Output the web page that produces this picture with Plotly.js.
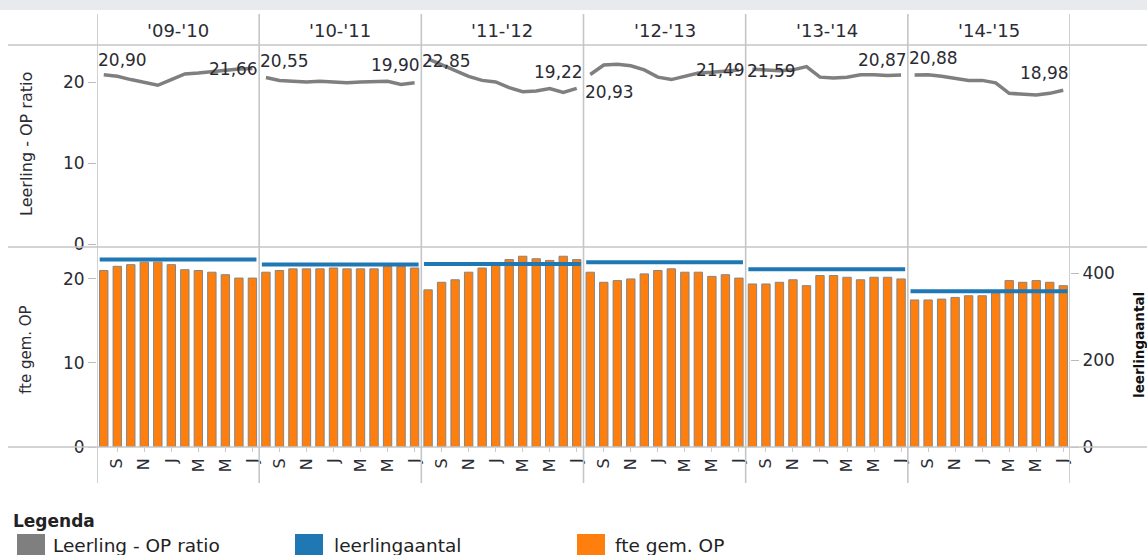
<!DOCTYPE html>
<html>
<head>
<meta charset="utf-8">
<script src="https://cdn.plot.ly/plotly-3.0.1.min.js"></script>
<style>
  html, body { margin: 0; padding: 0; background: #fff; overflow: hidden; }
  #chart { width: 1147px; height: 555px; }
</style>
</head>
<body>
<div id="chart"></div>
<script>
// ---------- data ----------
const years = ["'09-'10", "'10-'11", "'11-'12", "'12-'13", "'13-'14", "'14-'15"];
const months = ['A', 'S', 'O', 'N', 'D', 'J', 'F', 'M', 'A', 'M', 'J', 'J'];

// Leerling - OP ratio (per month)
const ratio0910 = [20.90, 20.7, 20.3, 19.9, 19.6, 20.3, 21.0, 21.1, 21.3, 21.4, 21.6, 21.66];
const ratio1011 = [20.55, 20.2, 20.1, 20.0, 20.1, 20.0, 19.9, 20.0, 20.0, 20.1, 19.7, 19.90];
const ratio1112 = [22.85, 22.1, 21.4, 20.7, 20.2, 20.0, 19.3, 18.8, 18.9, 19.2, 18.7, 19.22];
const ratio1213 = [20.93, 22.1, 22.2, 22.0, 21.5, 20.6, 20.3, 20.7, 21.1, 21.2, 21.3, 21.49];
const ratio1314 = [21.59, 21.5, 21.4, 21.5, 21.9, 20.6, 20.5, 20.6, 20.9, 20.9, 20.8, 20.87];
const ratio1415 = [20.88, 20.9, 20.7, 20.4, 20.2, 20.2, 19.9, 18.6, 18.5, 18.4, 18.6, 18.98];

// fte gem. OP (per month)
const fte0910 = [21.0, 21.5, 21.7, 22.0, 22.0, 21.7, 21.1, 21.0, 20.8, 20.5, 20.1, 20.1];
const fte1011 = [20.8, 21.0, 21.2, 21.2, 21.2, 21.3, 21.2, 21.2, 21.2, 21.5, 21.5, 21.3];
const fte1112 = [18.7, 19.6, 19.9, 20.8, 21.3, 21.6, 22.3, 22.7, 22.4, 22.2, 22.7, 22.3];
const fte1213 = [20.8, 19.6, 19.8, 20.0, 20.6, 21.0, 21.2, 20.8, 20.8, 20.3, 20.5, 20.1];
const fte1314 = [19.4, 19.4, 19.6, 19.9, 19.2, 20.4, 20.4, 20.2, 19.9, 20.2, 20.2, 20.0];
const fte1415 = [17.5, 17.5, 17.6, 17.8, 18.0, 18.0, 18.3, 19.8, 19.6, 19.8, 19.6, 19.2];

// leerlingaantal (per school year)
const leerlingaantal = [431, 420, 421, 425, 409, 358];

const leftTicks = [0, 10, 20];
const rightTicks = [0, 200, 400];
const legendTitle = 'Legenda';
const legendNames = ['Leerling - OP ratio', 'leerlingaantal', 'fte gem. OP'];

// ---------- styles / layout helpers ----------
const ratioByYear = [ratio0910, ratio1011, ratio1112, ratio1213, ratio1314, ratio1415];
const fteByYear = [fte0910, fte1011, fte1112, fte1213, fte1314, fte1415];
const colGray = '#7f7f7f', colBlue = '#1f77b4', colOrange = '#ff7f0e';
const gridCol = '#c6c6c6';
const FONT = 'DejaVu Sans, sans-serif';
const txtCol = '#2b2b33';

const W = 1147, H = 555, L = 97, R = 77, T = 45, B = 108;
const pw = W - L - R, ph = H - T - B;
const xp = px => (px - L) / pw;
const yp = py => (H - B - py) / ph;
const split = 200 / ph;

// label vertical offsets (px) for first / last value labels
const startShift = [15, 17, -2, -18, -2, 17];
const endShift = [0, 18, 16, 0, 15, 17];

const fmt = v => v.toFixed(2).replace('.', ',');

// ---------- traces ----------
const barX = [], barY = [];
const lineX = [], lineY = [];
const blueX = [], blueY = [];
years.forEach((yr, k) => {
  fteByYear[k].forEach((v, i) => { barX.push(k * 12 + i); barY.push(v); });
  ratioByYear[k].forEach((v, i) => { lineX.push(k * 12 + i); lineY.push(v); });
  lineX.push(null); lineY.push(null);
  blueX.push(k * 12 - 0.3, k * 12 + 11.3, null);
  blueY.push(leerlingaantal[k], leerlingaantal[k], null);
});

const traces = [
  {
    type: 'bar', x: barX, y: barY, xaxis: 'x', yaxis: 'y2', width: 0.62,
    marker: { color: colOrange, line: { color: '#858585', width: 1 } },
    name: legendNames[2], hoverinfo: 'skip'
  },
  {
    type: 'scatter', mode: 'lines', x: blueX, y: blueY, xaxis: 'x', yaxis: 'y3',
    line: { color: colBlue, width: 4 }, connectgaps: false,
    name: legendNames[1], hoverinfo: 'skip'
  },
  {
    type: 'scatter', mode: 'lines', x: lineX, y: lineY, xaxis: 'x2', yaxis: 'y',
    line: { color: colGray, width: 3.5 }, connectgaps: false,
    name: legendNames[0], hoverinfo: 'skip'
  }
];

// ---------- shapes ----------
const shapes = [];
// top grey band
shapes.push({ type: 'rect', xref: 'paper', yref: 'paper', x0: xp(0), x1: xp(W), y0: yp(0), y1: yp(10),
  fillcolor: '#e9eaee', line: { width: 0 }, layer: 'above' });
// horizontal rules
[45, 247, 447].forEach(py => shapes.push({ type: 'line', xref: 'paper', yref: 'paper',
  x0: xp(8), x1: xp(W), y0: yp(py), y1: yp(py), line: { color: gridCol, width: 1.6 }, layer: 'above' }));
// vertical separators between school years
for (let k = 0; k <= years.length; k++) {
  shapes.push({ type: 'line', xref: 'x', yref: 'paper', x0: k * 12 - 0.5, x1: k * 12 - 0.5,
    y0: yp(483), y1: yp(14), line: { color: gridCol, width: 1.6 }, layer: 'above' });
}
// legend swatches
const swatchX = [17, 295, 577];
[colGray, colBlue, colOrange].forEach((c, i) => shapes.push({ type: 'rect', xref: 'paper', yref: 'paper',
  x0: xp(swatchX[i]), x1: xp(swatchX[i] + 28), y0: yp(555), y1: yp(534), fillcolor: c, line: { width: 0 } }));

// ---------- annotations ----------
const ann = [];
years.forEach((yr, k) => {
  ann.push({ text: yr, xref: 'x', yref: 'paper', x: k * 12 + 5.5, y: yp(30), showarrow: false,
    xanchor: 'center', yanchor: 'middle', font: { family: FONT, size: 18, color: txtCol } });
  const r = ratioByYear[k];
  ann.push({ text: fmt(r[0]), xref: 'x2', yref: 'y', x: k * 12 - 0.5, y: r[0], showarrow: false,
    xanchor: 'left', yanchor: 'middle', yshift: startShift[k], borderpad: 0,
    font: { family: FONT, size: 17, color: txtCol } });
  ann.push({ text: fmt(r[r.length - 1]), xref: 'x2', yref: 'y', x: k * 12 + 11.5, y: r[r.length - 1], showarrow: false,
    xanchor: 'right', yanchor: 'middle', yshift: endShift[k], borderpad: 0,
    font: { family: FONT, size: 17, color: txtCol } });
});
// axis titles
ann.push({ text: legendNames[0], xref: 'paper', yref: 'paper', x: xp(26), y: yp(144), textangle: -90,
  showarrow: false, xanchor: 'center', yanchor: 'middle', font: { family: FONT, size: 16, color: txtCol } });
ann.push({ text: legendNames[2], xref: 'paper', yref: 'paper', x: xp(26), y: yp(350), textangle: -90,
  showarrow: false, xanchor: 'center', yanchor: 'middle', font: { family: FONT, size: 15, color: txtCol } });
ann.push({ text: '<b>' + legendNames[1] + '</b>', xref: 'paper', yref: 'paper', x: xp(1139), y: yp(345), textangle: -90,
  showarrow: false, xanchor: 'center', yanchor: 'middle', font: { family: FONT, size: 13.5, color: '#111' } });
// legend
ann.push({ text: '<b>' + legendTitle + '</b>', xref: 'paper', yref: 'paper', x: xp(12), y: yp(521),
  showarrow: false, xanchor: 'left', yanchor: 'middle', borderpad: 0, font: { family: FONT, size: 17, color: '#222' } });
const legTextX = [52, 333, 614];
legendNames.forEach((n, i) => ann.push({ text: n, xref: 'paper', yref: 'paper', x: xp(legTextX[i]), y: yp(545),
  showarrow: false, xanchor: 'left', yanchor: 'middle', borderpad: 0, font: { family: FONT, size: 18.5, color: '#222' } }));

// ---------- layout ----------
const tickIdx = [], tickTxt = [];
years.forEach((yr, k) => months.forEach((m, i) => { if (i % 2 === 1) { tickIdx.push(k * 12 + i); tickTxt.push(m); } }));

const yCommon = { tickvals: leftTicks, ticktext: leftTicks.map(String), ticks: 'outside', ticklen: 8,
  tickcolor: '#bbb', showgrid: false, zeroline: false, showline: false,
  tickfont: { family: FONT, size: 17, color: txtCol }, fixedrange: true };

const layout = {
  width: W, height: H,
  margin: { l: L, r: R, t: T, b: B, pad: 0 },
  paper_bgcolor: '#fff', plot_bgcolor: '#fff',
  showlegend: false, hovermode: false, bargap: 0,
  xaxis: { domain: [0, 1], anchor: 'y2', range: [-0.5, 71.5], tickvals: tickIdx, ticktext: tickTxt,
    tickangle: -90, ticks: 'outside', ticklen: 4, tickcolor: '#ccc', showgrid: false, zeroline: false,
    showline: false, tickfont: { family: FONT, size: 16, color: txtCol }, fixedrange: true },
  xaxis2: { domain: [0, 1], anchor: 'y', range: [-0.5, 71.5], showticklabels: false, ticks: '',
    showgrid: false, zeroline: false, showline: false, fixedrange: true },
  yaxis: Object.assign({}, yCommon, { domain: [split, 1], anchor: 'x2', range: [-0.37, 24.57] }),
  yaxis2: Object.assign({}, yCommon, { domain: [0, split], anchor: 'x', range: [0, 23.8] }),
  yaxis3: Object.assign({}, yCommon, { overlaying: 'y2', side: 'right', anchor: 'x', range: [0, 460],
    tickvals: rightTicks, ticktext: rightTicks.map(String) }),
  shapes: shapes,
  annotations: ann
};

Plotly.newPlot('chart', traces, layout, { displayModeBar: false, staticPlot: true });
</script>
</body>
</html>
